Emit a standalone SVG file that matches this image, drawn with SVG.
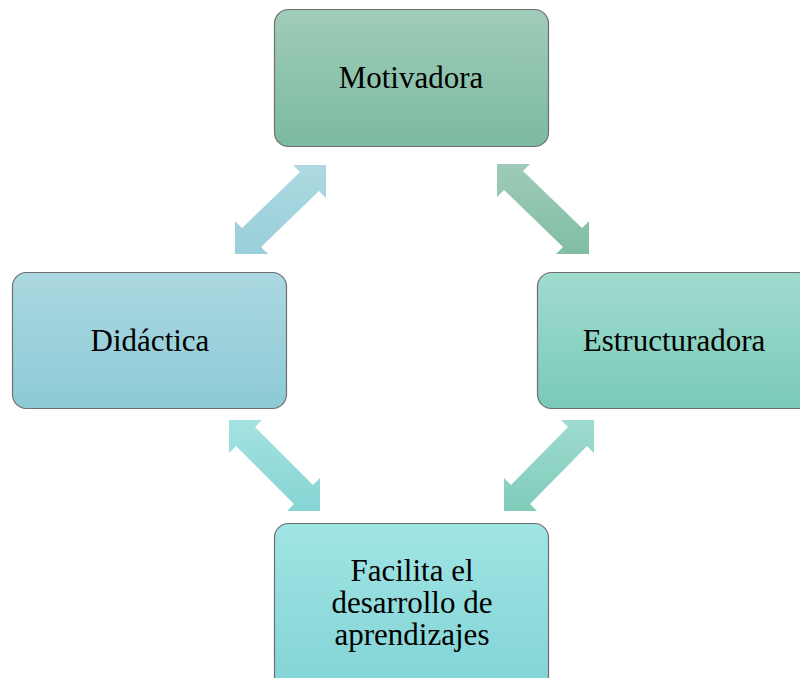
<svg xmlns="http://www.w3.org/2000/svg" width="800" height="678" viewBox="0 0 800 678">
<defs>
<linearGradient id="gTop" x1="0" y1="0" x2="0" y2="1"><stop offset="0" stop-color="#a0ccba"/><stop offset="1" stop-color="#7cbaa1"/></linearGradient>
<linearGradient id="gLeft" x1="0" y1="0" x2="0" y2="1"><stop offset="0" stop-color="#acd8e1"/><stop offset="1" stop-color="#8ccad6"/></linearGradient>
<linearGradient id="gRight" x1="0" y1="0" x2="0" y2="1"><stop offset="0" stop-color="#a0dbce"/><stop offset="1" stop-color="#7acab8"/></linearGradient>
<linearGradient id="gBottom" x1="0" y1="0" x2="0" y2="1"><stop offset="0" stop-color="#a1e4e4"/><stop offset="1" stop-color="#80d3d5"/></linearGradient>
<linearGradient id="aTL" x1="0" y1="0" x2="0" y2="1"><stop offset="0" stop-color="#aed9e1"/><stop offset="1" stop-color="#98cfd9"/></linearGradient>
<linearGradient id="aTR" x1="0" y1="0" x2="0" y2="1"><stop offset="0" stop-color="#9fcbb8"/><stop offset="1" stop-color="#80bda3"/></linearGradient>
<linearGradient id="aBL" x1="0" y1="0" x2="0" y2="1"><stop offset="0" stop-color="#a4e2e1"/><stop offset="1" stop-color="#86d4d4"/></linearGradient>
<linearGradient id="aBR" x1="0" y1="0" x2="0" y2="1"><stop offset="0" stop-color="#9edbd0"/><stop offset="1" stop-color="#80cbb9"/></linearGradient>
</defs>
<style>
.box{stroke:#6f6f6f;stroke-width:1.2}
.lbl{font-family:"Liberation Serif","Times New Roman",serif;font-size:31px;fill:#000;text-anchor:middle}
</style>
<rect width="800" height="678" fill="#ffffff"/>
<g id="connectors">
<polygon fill="url(#aTL)" points="326,165 326,198 319,191 261,247 268,254 235,254 235,221 242,228 300,172 293,165"/>
<polygon fill="url(#aTR)" points="497,164 530,164 523,171 582,228 589,221 589,254 556,254 563,247 504,190 497,197"/>
<polygon fill="url(#aBL)" points="229,420 262,420 255,427 313,485 320,478 320,511 287,511 294,504 236,446 229,453"/>
<polygon fill="url(#aBR)" points="594,420 594,453 587,446 530,504 537,511 504,511 504,478 511,485 568,427 561,420"/>
</g>
<g id="motivadora">
<rect class="box" x="274.5" y="9.5" width="274" height="137" rx="14" fill="url(#gTop)"/>
<text class="lbl" x="411" y="88">Motivadora</text>
</g>
<g id="didactica">
<rect class="box" x="12.5" y="272.5" width="274" height="136" rx="14" fill="url(#gLeft)"/>
<text class="lbl" x="150" y="351">Didáctica</text>
</g>
<g id="estructuradora">
<rect class="box" x="537.5" y="272.5" width="274" height="136" rx="14" fill="url(#gRight)"/>
<text class="lbl" x="674" y="351">Estructuradora</text>
</g>
<g id="facilita">
<rect class="box" x="274.5" y="523.5" width="274" height="175" rx="14" fill="url(#gBottom)"/>
<text class="lbl" x="412" y="581">Facilita el</text>
<text class="lbl" x="412" y="613">desarrollo de</text>
<text class="lbl" x="412" y="645">aprendizajes</text>
</g>
</svg>
